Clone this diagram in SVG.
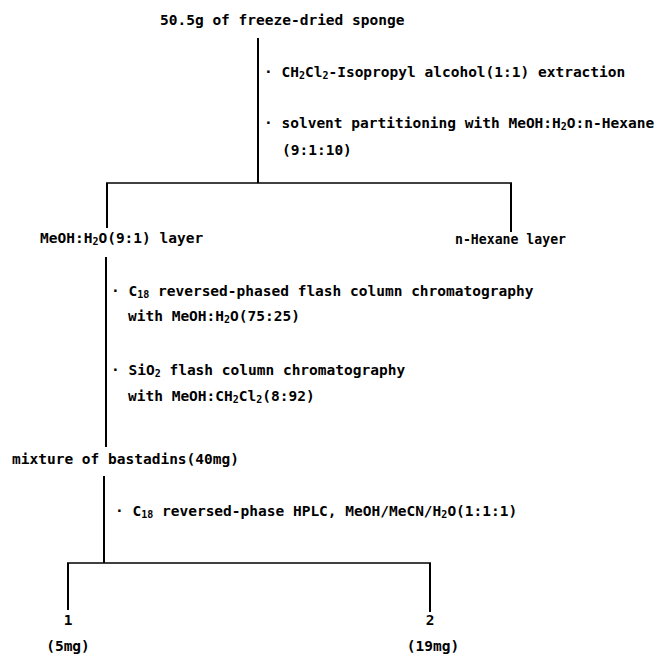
<svg xmlns="http://www.w3.org/2000/svg" width="658" height="655" viewBox="0 0 658 655">
<style>
text{font-family:"DejaVu Sans Mono","Liberation Mono",monospace;font-weight:bold;font-size:14.5px;fill:#000}
.s{font-size:10px}
.c line{stroke:#000;stroke-width:2;fill:none}
.c line.h{stroke-width:1.5}
</style>
<rect width="658" height="655" fill="#fff"/>
<g id="connectors" class="c">
<line x1="258" y1="38" x2="258" y2="183"/>
<line class="h" x1="106" y1="183" x2="512" y2="183"/>
<line x1="107" y1="183" x2="107" y2="228"/>
<line x1="511" y1="183" x2="511" y2="232"/>
<line x1="106" y1="257" x2="106" y2="447"/>
<line x1="104" y1="476" x2="104" y2="563"/>
<line class="h" x1="67" y1="563" x2="431" y2="563"/>
<line x1="68" y1="563" x2="68" y2="610"/>
<line x1="430" y1="563" x2="430" y2="612"/>
</g>
<g id="steps">
<text x="264" y="77">· CH<tspan class="s" dy="2">2</tspan><tspan dy="-2">Cl</tspan><tspan class="s" dy="2">2</tspan><tspan dy="-2">-Isopropyl alcohol(1:1) extraction</tspan></text>
<text x="264" y="128">· solvent partitioning with MeOH:H<tspan class="s" dy="2">2</tspan><tspan dy="-2">O:n-Hexane</tspan></text>
<text x="282" y="155">(9:1:10)</text>
<text x="111" y="296">· C<tspan class="s" dy="2">18</tspan><tspan dy="-2"> reversed-phased flash column chromatography</tspan></text>
<text x="128" y="321">with MeOH:H<tspan class="s" dy="2">2</tspan><tspan dy="-2">O(75:25)</tspan></text>
<text x="111" y="375">· SiO<tspan class="s" dy="2">2</tspan><tspan dy="-2"> flash column chromatography</tspan></text>
<text x="128" y="401">with MeOH:CH<tspan class="s" dy="2">2</tspan><tspan dy="-2">Cl</tspan><tspan class="s" dy="2">2</tspan><tspan dy="-2">(8:92)</tspan></text>
<text x="115" y="516">· C<tspan class="s" dy="2">18</tspan><tspan dy="-2"> reversed-phase HPLC, MeOH/MeCN/H</tspan><tspan class="s" dy="2">2</tspan><tspan dy="-2">O(1:1:1)</tspan></text>
</g>
<g id="sponge"><text x="160" y="25">50.5g of freeze-dried sponge</text></g>
<g id="meoh-layer"><text x="40" y="243">MeOH:H<tspan class="s" dy="2">2</tspan><tspan dy="-2">O(9:1) layer</tspan></text></g>
<g id="hexane-layer"><text x="455" y="244" textLength="111" lengthAdjust="spacingAndGlyphs">n-Hexane layer</text></g>
<g id="mixture"><text x="12" y="464">mixture of bastadins(40mg)</text></g>
<g id="compound-1"><text x="68" y="625" text-anchor="middle">1</text><text x="68" y="651" text-anchor="middle">(5mg)</text></g>
<g id="compound-2"><text x="430" y="625" text-anchor="middle">2</text><text x="433" y="651" text-anchor="middle">(19mg)</text></g>
</svg>
